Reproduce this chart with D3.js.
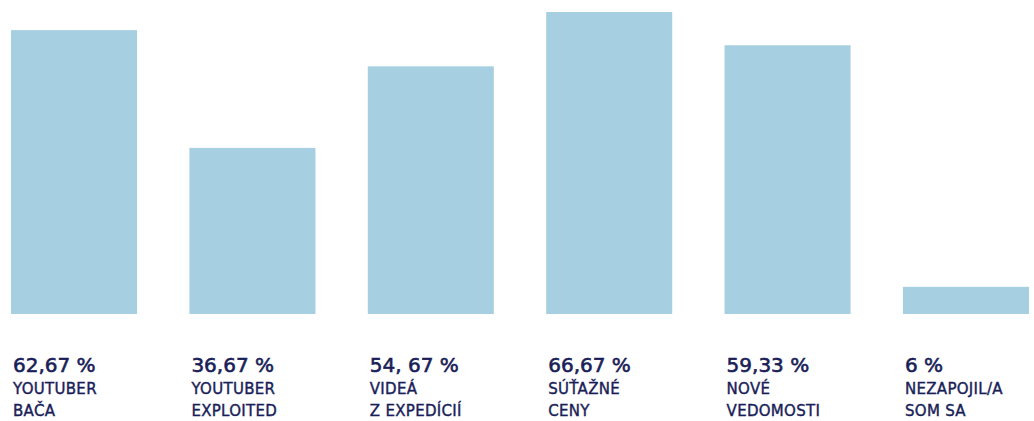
<!DOCTYPE html>
<html><head><meta charset="utf-8">
<script src="https://cdn.jsdelivr.net/npm/d3@7"></script>
<style>html,body{margin:0;padding:0;background:#fff;}svg{display:block;}</style>
</head><body><div id="chart"></div>
<script>
const categories = ["YOUTUBER BAČA","YOUTUBER EXPLOITED","VIDEÁ Z EXPEDÍCIÍ","SÚŤAŽNÉ CENY","NOVÉ VEDOMOSTI","NEZAPOJIL/A SOM SA"];
const labelLines = [["YOUTUBER","BAČA"],["YOUTUBER","EXPLOITED"],["VIDEÁ","Z EXPEDÍCIÍ"],["SÚŤAŽNÉ","CENY"],["NOVÉ","VEDOMOSTI"],["NEZAPOJIL/A","SOM SA"]];
const values = [62.67, 36.67, 54.67, 66.67, 59.33, 6];
const valueLabels = ["62,67 %","36,67 %","54, 67 %","66,67 %","59,33 %","6 %"];

const W = 1034, H = 421;
const svg = d3.select("#chart").append("svg").attr("width", W).attr("height", H);
const x = d3.scaleBand().domain(categories).range([11, 1029]).paddingInner(0.2935).paddingOuter(0);
const y = d3.scaleLinear().domain([0, 66.67]).range([314, 12]);

svg.selectAll("rect.bar").data(categories).join("rect")
  .attr("class","bar")
  .attr("x", d => x(d))
  .attr("width", x.bandwidth())
  .attr("y", (d,i) => y(values[i]))
  .attr("height", (d,i) => y(0) - y(values[i]))
  .attr("fill", "#a6cfe2");

const textColor = "#1a1e58";
const g = svg.selectAll("g.lbl").data(categories).join("g")
  .attr("class","lbl")
  .attr("transform", d => `translate(${x(d)+2},0)`);
g.append("text")
  .attr("y", 372)
  .attr("fill", textColor)
  .attr("stroke", textColor)
  .attr("stroke-width", 0.6)
  .style("font-family", "'DejaVu Sans', sans-serif")
  .style("font-size", "20px")
  .text((d,i) => valueLabels[i]);
g.each(function(d,i){
  const sel = d3.select(this);
  labelLines[i].forEach((t,j) => {
    sel.append("text")
      .attr("y", 394 + j*22)
      .attr("fill", textColor)
      .attr("stroke", textColor)
      .attr("stroke-width", 0.4)
      .style("font-family", "'DejaVu Sans', sans-serif")
      .style("font-size", "15px")
      .style("letter-spacing", "0.3px")
      .text(t);
  });
});
</script></body></html>
